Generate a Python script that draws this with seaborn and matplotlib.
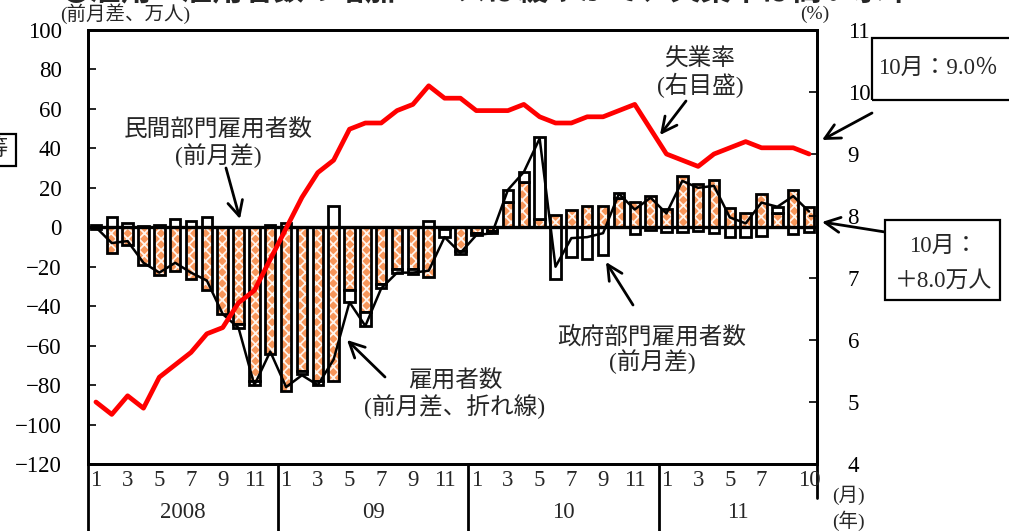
import numpy as np
import pandas as pd
import matplotlib
matplotlib.use("Agg")
import matplotlib.pyplot as plt
from matplotlib.transforms import blended_transform_factory
from matplotlib.patches import Rectangle
import seaborn as sns

# ---- data (万人 / %) : 2008/1 .. 2011/10 ----
years = ["2008", "09", "10", "11"]
months_in_year = [12, 12, 12, 10]
month_labels = [[1, 3, 5, 7, 9, 11], [1, 3, 5, 7, 9, 11], [1, 3, 5, 7, 9, 11], [1, 3, 5, 7, 10]]

private = [-1, -13, -9, -19, -24, -22, -26, -32, -44, -49, -78, -64,
           -83, -73, -78, -78, -32, -43, -29, -21, -21, -25, -1, -12,
           -3, -2, 13, 23, 4, 6, 9, 11, 11, 15, 13, 16,
           9.5, 26, 22, 24, 10, 7, 17, 7, 19, 10.4]
government = [1, 5, 2, 0.5, 1, 4, 3, 5, 0, -2, -2, 1,
              2, -1.5, -2, 11, -6, -7, -2, -2, -2.5, 3, -4, -1.5,
              -1, -1, 6, 5, 42, -26, -15, -16, -14, 2.6, -3.5, -1.5,
              -2.5, -2.5, -2, -3, -5, -5, -4.5, 3.5, -3.4, -2.4]
total = [0, -8, -7, -18, -23, -18, -23, -27, -44, -51, -80, -63,
         -81, -75, -80, -67, -38, -50, -31, -23, -23, -22, -5, -13,
         -4, -3, 19, 28, 45, -20, -5.5, -5, -3, 17, 9, 15,
         7, 23.5, 20, 21, 5, 2, 12.5, 10.4, 15.8, 8.0]
unemployment = [5.0, 4.8, 5.1, 4.9, 5.4, 5.6, 5.8, 6.1, 6.2, 6.6, 6.8, 7.3,
                7.8, 8.3, 8.7, 8.9, 9.4, 9.5, 9.5, 9.7, 9.8, 10.1, 9.9, 9.9,
                9.7, 9.7, 9.7, 9.8, 9.6, 9.5, 9.5, 9.6, 9.6, 9.7, 9.8, 9.4,
                9.0, 8.9, 8.8, 9.0, 9.1, 9.2, 9.1, 9.1, 9.1, 9.0]

left_ticks = list(range(-120, 101, 20))
right_ticks = list(range(4, 12))

W, H = 1009, 531
ORANGE = "#F7965A"
RED = "#FF0000"
BAR_W = 0.66

sns.set_theme(style="white")
plt.rcParams["font.family"] = ["Liberation Serif", "Noto Sans CJK JP"]
plt.rcParams["hatch.linewidth"] = 1.3
plt.rcParams["axes.unicode_minus"] = True

fig = plt.figure(figsize=(W / 100, H / 100), dpi=100)
fig.patch.set_facecolor("white")


def fx(x):
    return x / W


def fy(y):
    return 1 - y / H


ax = fig.add_axes([fx(88), fy(464), fx(817) - fx(88), fy(30) - fy(464)])

idx = np.arange(len(private))
df = pd.DataFrame({"idx": idx, "private": private, "government": government,
                   "total": total, "unemployment": unemployment})

# private sector bars: orange with a white cross-hatch, black outline
sns.barplot(data=df, x="idx", y="private", native_scale=True, width=BAR_W,
            color=ORANGE, saturation=1, errorbar=None, ax=ax, zorder=2)
for p in ax.patches:
    p.set_hatch("xxx")
    p.set_edgecolor("#FFF4EC")
    p.set_linewidth(0)
ax.bar(df["idx"], df["private"], width=BAR_W, fill=False, edgecolor="black",
       linewidth=2.0, zorder=3)

# government bars stacked onto the private bar when signs agree
priv = df["private"].to_numpy()
gov = df["government"].to_numpy()
base = np.where(np.sign(gov) == np.sign(priv), priv, 0)
ax.bar(df["idx"], gov, bottom=base, width=BAR_W, facecolor="white",
       edgecolor="black", linewidth=2.0, zorder=3)

ax.axhline(0, color="black", lw=2.4, zorder=4)

sns.lineplot(data=df, x="idx", y="total", color="black", lw=1.8, ax=ax, zorder=5)

ax.set_xlim(-0.5, len(idx) - 0.5)
ax.set_ylim(-120, 100)
ax.set_yticks(left_ticks)
ax.set_xticks([])
ax.set_xlabel("")
ax.set_ylabel("")
ax.tick_params(axis="y", direction="in", length=6, width=1.2, pad=19,
               labelsize=16.5, colors="black")
for s in ax.spines.values():
    s.set_visible(True)
    s.set_color("black")
    s.set_linewidth(2.0)

ax2 = ax.twinx()
sns.lineplot(data=df, x="idx", y="unemployment", color=RED, lw=3.4, ax=ax2, zorder=6)
ax2.set_ylim(4, 11)
ax2.set_yticks(right_ticks)
ax2.set_ylabel("")
ax2.tick_params(axis="y", direction="in", length=6, width=1.2, pad=22,
                labelsize=16.5, colors="black")
for s in ax2.spines.values():
    s.set_color("black")
    s.set_linewidth(2.0)

# ---- month / year band under the plot ----
tr = blended_transform_factory(ax.transData, fig.transFigure)
start = 0
for yr, n, labs in zip(years, months_in_year, month_labels):
    for m in labs:
        ax.text(start + m - 1, fy(481), str(m), transform=tr, ha="center",
                va="center", fontsize=16.5)
    ax.text(start + (n - 1) / 2, fy(512), yr, transform=tr, ha="center",
            va="center", fontsize=16.5)
    ax.plot([start - 0.5, start - 0.5], [fy(464), 0], transform=tr,
            color="black", lw=2.0, clip_on=False)
    start += n
ax.plot([start - 0.5, start - 0.5], [fy(464), fy(498)], transform=tr,
        color="black", lw=2.0, clip_on=False)
fig.text(fx(848), fy(495), "(月)", ha="center", va="center", fontsize=14)
fig.text(fx(848), fy(521), "(年)", ha="center", va="center", fontsize=14)

# ---- titles and units ----
fig.text(fx(60), fy(-10), "●雇用：雇用者数の増加ペースは緩やかで、失業率は高い水準",
         ha="left", va="center", fontsize=22, fontweight="bold",
         family=["Noto Sans CJK JP"])
fig.text(fx(125), fy(14), "(前月差、万人)", ha="center", va="center", fontsize=14)
fig.text(fx(815), fy(14), "(%)", ha="center", va="center", fontsize=14)


def label(cx, cy, lines, size=17):
    for k, t in enumerate(lines):
        fig.text(fx(cx), fy(cy + k * 25), t, ha="center", va="center", fontsize=size)


def arrow(tail, head):
    ax.annotate("", xy=(head[0], H - head[1]), xycoords="figure pixels",
                xytext=(tail[0], H - tail[1]), textcoords="figure pixels",
                arrowprops=dict(arrowstyle="->,head_length=0.9,head_width=0.45",
                                color="black", lw=2.0, shrinkA=0, shrinkB=0),
                annotation_clip=False, zorder=10)


label(218, 131, ["民間部門雇用者数", "(前月差)"])
arrow((226, 168), (240, 219))
label(700, 60, ["失業率", "(右目盛)"])
arrow((686, 101), (660, 135))
label(455, 382, ["雇用者数", "(前月差、折れ線)"])
arrow((385, 377), (347, 340))
label(652, 337, ["政府部門雇用者数", "(前月差)"])
arrow((633, 305), (606, 262))

# callout boxes on the right
fig.patches.append(Rectangle((fx(872), fy(100)), fx(1020) - fx(872), fy(38) - fy(100),
                             transform=fig.transFigure, fill=False, edgecolor="black",
                             lw=1.6))
fig.text(fx(878), fy(68), "10月：9.0％", ha="left", va="center", fontsize=16.5)
arrow((872, 113), (822, 140))

fig.patches.append(Rectangle((fx(885), fy(300)), fx(1000) - fx(885), fy(220) - fy(300),
                             transform=fig.transFigure, facecolor="white",
                             edgecolor="black", lw=1.6))
fig.text(fx(943), fy(246), "10月：", ha="center", va="center", fontsize=16.5)
fig.text(fx(943), fy(281), "＋8.0万人", ha="center", va="center", fontsize=16.5)
arrow((885, 232), (822, 222))

# box cut by the left margin
fig.patches.append(Rectangle((fx(-20), fy(166)), fx(16) - fx(-20), fy(134) - fy(166),
                             transform=fig.transFigure, fill=False, edgecolor="black",
                             lw=1.6))
fig.text(fx(-4), fy(150), "等", ha="center", va="center", fontsize=16)

fig.savefig("out.png", dpi=100)
